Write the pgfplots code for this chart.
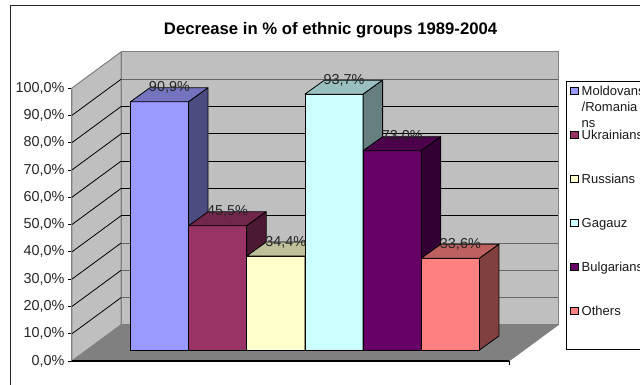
\documentclass[border=0pt]{standalone}
\usepackage{fontspec}
\setmainfont{Liberation Sans}
\usepackage{pgfplots}
\pgfplotsset{compat=1.18}

\definecolor{barA}{HTML}{9999FF}
\definecolor{barB}{HTML}{993366}
\definecolor{barC}{HTML}{FFFFCC}
\definecolor{barD}{HTML}{CCFFFF}
\definecolor{barE}{HTML}{660066}
\definecolor{barF}{HTML}{FF8080}

% Shared frame: one unit on x is one bar width, one unit on y is one percent.
\pgfplotsset{
  chartframe/.style={
    at={(72pt,24pt)}, anchor=south west,
    scale only axis, width=437pt, height=273pt,
    xmin=-0.502, xmax=7.007,
    clip=false,
  },
  swatch/.style={
    legend image code/.code={
      \draw[fill=#1,draw=black,line width=0.7pt] (0pt,10.5pt) rectangle (7.5pt,18pt);
      \path (10.6pt,10.5pt);
    }
  },
}

\begin{document}
\begin{tikzpicture}[x=1pt,y=1pt]
\useasboundingbox (0,0) rectangle (640,385);
\clip (0,0) rectangle (640,385);

% Outer chart border, open towards the right and the bottom
\draw[line width=1pt,black!85] (10.6,-1) -- (10.6,379) -- (641,379);
\node[font=\fontsize{16.7}{18}\selectfont\bfseries] at (330.6,354.5)
  {Decrease in \% of ethnic groups 1989-2004};

% Walls, floor, gridlines, value axis and legend
\begin{axis}[
  chartframe,
  ymin=0, ymax=100,
  axis x line=none,
  axis y line=left,
  y axis line style={-,draw=gray,line width=1pt},
  xtick=\empty,
  ytick={0,10,...,100},
  tick style={black,line width=0.7pt},
  major tick length=4pt,
  tick align=outside,
  tick label style={font=\fontsize{14.4}{16}\selectfont,text=black!85},
  yticklabel style={/pgf/number format/.cd,use comma,fixed,fixed zerofill,precision=1,assume math mode=true},
  yticklabel={\pgfmathprintnumber{\tick}\%},
  ylabel style={draw=none},
  unbounded coords=jump,
  legend style={
    at={(1.1304,1.0267)}, anchor=north west,
    draw=black, line width=0.8pt,
    inner xsep=4pt, inner ysep=2.15pt,
    row sep=0pt,
    font=\fontsize{13}{16}\selectfont,
    text=black!90,
    nodes={inner sep=0pt,text height=12pt,text depth=32pt,text width=66pt,align=left,line width=0pt},
  },
  legend cell align=left,
]
\addlegendimage{swatch=barA}
\addlegendentry{\smash{\parbox[t]{66pt}{\fontsize{13}{16}\selectfont Moldovans\\/Romania\\ns}}}
\addlegendimage{swatch=barB}
\addlegendentry{Ukrainians}
\addlegendimage{swatch=barC}
\addlegendentry{Russians}
\addlegendimage{swatch=barD}
\addlegendentry{Gagauz}
\addlegendimage{swatch=barE}
\addlegendentry{Bulgarians}
\addlegendimage{swatch=barF}
\addlegendentry{Others}

% back wall, side wall, floor
\addplot[fill=black!25,draw=black!50,line width=1pt,forget plot]
  coordinates {(0.340,13.19) (7.849,13.19) (7.849,113.19) (0.340,113.19) (0.340,13.19)};
\addplot[fill=black!25,draw=black!50,line width=1pt,forget plot]
  coordinates {(-0.502,0) (0.340,13.19) (0.340,113.19) (-0.502,100) (-0.502,0)};
\addplot[fill=black!50,draw=black!50,line width=0.8pt,forget plot]
  coordinates {(-0.502,0) (7.007,0) (7.849,13.19) (0.340,13.19) (-0.502,0)};

% gridlines across the back wall
\addplot[black!60,line width=1pt,forget plot] coordinates {
  (0.340,103.19) (7.849,103.19) (nan,nan)
  (0.340,43.19) (7.849,43.19) (nan,nan)
  (0.340,33.19) (7.849,33.19) (nan,nan)
  (0.340,23.19) (7.849,23.19)};
\addplot[black,line width=0.8pt,forget plot] coordinates {
  (0.340,93.19) (7.849,93.19) (nan,nan)
  (0.340,83.19) (7.849,83.19) (nan,nan)
  (0.340,73.19) (7.849,73.19) (nan,nan)
  (0.340,63.19) (7.849,63.19) (nan,nan)
  (0.340,53.19) (7.849,53.19)};
% gridlines across the side wall
\addplot[black,line width=0.8pt,forget plot] coordinates {
  (-0.502,10) (0.340,23.19) (nan,nan)
  (-0.502,20) (0.340,33.19) (nan,nan)
  (-0.502,30) (0.340,43.19) (nan,nan)
  (-0.502,40) (0.340,53.19) (nan,nan)
  (-0.502,50) (0.340,63.19) (nan,nan)
  (-0.502,60) (0.340,73.19) (nan,nan)
  (-0.502,70) (0.340,83.19) (nan,nan)
  (-0.502,80) (0.340,93.19) (nan,nan)
  (-0.502,90) (0.340,103.19)};
% front edge of the floor with its end tick
\addplot[black,line width=1.2pt,forget plot] coordinates {(-0.502,0) (7.007,0)};
\addplot[black,line width=0.7pt,forget plot] coordinates {(7.007,0) (7.007,-1.47)};
\end{axis}

% Bars: the zero of this axis is the foot of the bars, set back on the floor
\begin{axis}[
  chartframe,
  ymin=-4.03, ymax=95.97,
  hide axis,
  every axis plot/.append style={draw=black,line width=0.8pt,line join=round,bar width=58.2pt,bar shift=0pt},
]
\addplot[ybar,fill=barA] coordinates {(1,90.9)};
\addplot[fill=barA!75!black] coordinates {(0.5,90.9) (1.5,90.9) (1.835,96.03) (0.835,96.03) (0.5,90.9)};
\addplot[fill=barA!50!black] coordinates {(1.5,0) (1.5,90.9) (1.835,96.03) (1.835,5.13) (1.5,0)};

\addplot[ybar,fill=barB] coordinates {(2,45.5)};
\addplot[fill=barB!75!black] coordinates {(1.5,45.5) (2.5,45.5) (2.835,50.63) (1.835,50.63) (1.5,45.5)};
\addplot[fill=barB!50!black] coordinates {(2.5,0) (2.5,45.5) (2.835,50.63) (2.835,5.13) (2.5,0)};

\addplot[ybar,fill=barC] coordinates {(3,34.4)};
\addplot[fill=barC!75!black] coordinates {(2.5,34.4) (3.5,34.4) (3.835,39.53) (2.835,39.53) (2.5,34.4)};
\addplot[fill=barC!50!black] coordinates {(3.5,0) (3.5,34.4) (3.835,39.53) (3.835,5.13) (3.5,0)};

\addplot[ybar,fill=barD] coordinates {(4,93.7)};
\addplot[fill=barD!75!black] coordinates {(3.5,93.7) (4.5,93.7) (4.835,98.83) (3.835,98.83) (3.5,93.7)};
\addplot[fill=barD!50!black] coordinates {(4.5,0) (4.5,93.7) (4.835,98.83) (4.835,5.13) (4.5,0)};

\addplot[ybar,fill=barE] coordinates {(5,73.0)};
\addplot[fill=barE!75!black] coordinates {(4.5,73.0) (5.5,73.0) (5.835,78.13) (4.835,78.13) (4.5,73.0)};
\addplot[fill=barE!50!black] coordinates {(5.5,0) (5.5,73.0) (5.835,78.13) (5.835,5.13) (5.5,0)};

\addplot[ybar,fill=barF] coordinates {(6,33.6)};
\addplot[fill=barF!75!black] coordinates {(5.5,33.6) (6.5,33.6) (6.835,38.73) (5.835,38.73) (5.5,33.6)};
\addplot[fill=barF!50!black] coordinates {(6.5,0) (6.5,33.6) (6.835,38.73) (6.835,5.13) (6.5,0)};

% Value labels sit over the rear top edge of each bar
\addplot[draw=none,mark=none,
  nodes near coords={\pgfmathprintnumber[use comma,fixed,fixed zerofill,precision=1,assume math mode=true]{\pgfplotspointmeta}\%},
  point meta=explicit,
  every node near coord/.append style={anchor=center,xshift=10pt,yshift=14pt,
    font=\fontsize{14.4}{16}\selectfont,text=black!85,inner sep=0pt},
] coordinates {
  (1,90.9) [90.9]
  (2,45.5) [45.5]
  (3,34.4) [34.4]
  (4,93.7) [93.7]
  (5,73.0) [73.0]
  (6,33.6) [33.6]
};
\end{axis}
\end{tikzpicture}
\end{document}
